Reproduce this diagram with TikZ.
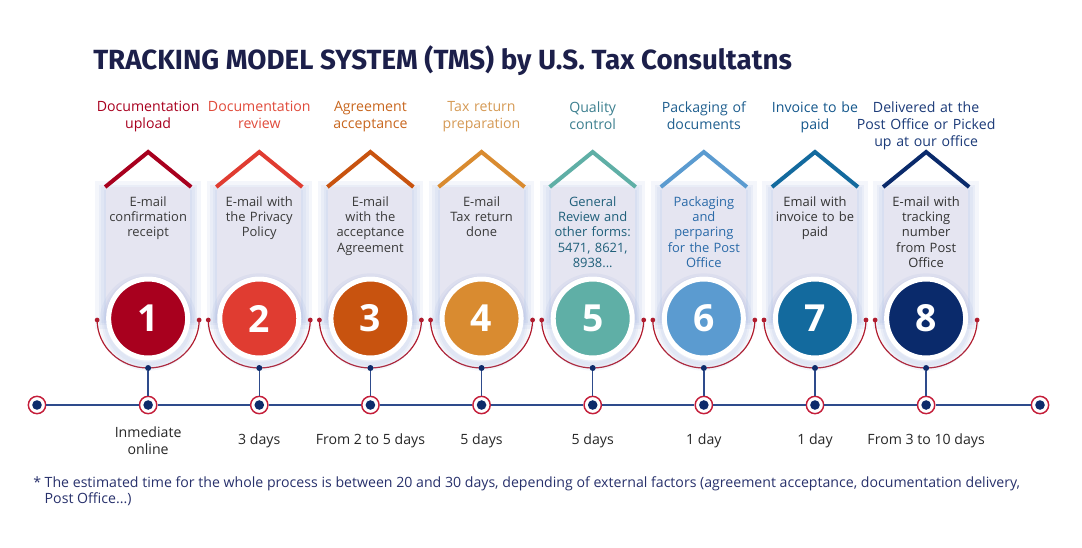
\documentclass[tikz,border=0pt]{standalone}
\usepackage{fontspec}
\setmainfont{Open Sans}
\newfontfamily\titlefont{Fira Sans}
\usetikzlibrary{positioning}
\definecolor{titlenavy}{HTML}{1C1F4A}
\definecolor{footnavy}{HTML}{27306B}
\definecolor{tabfill}{HTML}{E5E5F1}
\definecolor{glowblue}{HTML}{8FA3D6}
\definecolor{arcred}{HTML}{B01C2E}
\definecolor{ringred}{HTML}{C41E3A}
\definecolor{navydot}{HTML}{0D2B6B}
\definecolor{linenavy}{HTML}{2E4B8C}
\definecolor{col1}{HTML}{A8001E}
\definecolor{col2}{HTML}{E03C31}
\definecolor{col3}{HTML}{C8530F}
\definecolor{col4}{HTML}{D98B30}
\definecolor{col5}{HTML}{5FAFA6}
\definecolor{col6}{HTML}{5B9BD0}
\definecolor{col7}{HTML}{136A9E}
\definecolor{col8}{HTML}{0A2A6B}
\definecolor{lab1}{HTML}{A8001E}
\definecolor{lab2}{HTML}{E04A3A}
\definecolor{lab3}{HTML}{C8661E}
\definecolor{lab4}{HTML}{D59A55}
\definecolor{lab5}{HTML}{3C7F8F}
\definecolor{lab6}{HTML}{1F5F8F}
\definecolor{lab7}{HTML}{14578C}
\definecolor{lab8}{HTML}{1B3A78}
\definecolor{txt1}{HTML}{3A3A3A}
\definecolor{txt2}{HTML}{3A3A3A}
\definecolor{txt3}{HTML}{3A3A3A}
\definecolor{txt4}{HTML}{3A3A3A}
\definecolor{txt5}{HTML}{1F5F7A}
\definecolor{txt6}{HTML}{2A6AA8}
\definecolor{txt7}{HTML}{333333}
\definecolor{txt8}{HTML}{333333}

\tikzset{
  roof/.style={line width=3pt},
  glow/.style={draw=glowblue, opacity=0.1},
  stepcirc/.style={circle, draw=white, line width=3.75pt, minimum size=59.25pt, inner sep=0pt, text=white, font=\bfseries\fontsize{28}{30}\selectfont},
  bodytxt/.style={anchor=north, text width=66pt, align=center, font=\fontsize{9.7}{11.5}\selectfont},
  steplabel/.style={anchor=north, text width=120pt, align=center, font=\fontsize{10.6}{12.8}\selectfont},
  daystxt/.style={align=center, text=black!85, font=\fontsize{10.6}{12.6}\selectfont},
  tdot/.style={circle, fill=white, draw=ringred, line width=1.1pt, minimum size=13pt, inner sep=0pt,
    path picture={\fill[navydot] (path picture bounding box.center) circle (3.6pt);}},
  bdot/.style={circle, fill=navydot, minimum size=4.5pt, inner sep=0pt},
  reddot/.style={circle, fill=arcred, minimum size=3.6pt, inner sep=0pt},
  redarc/.style={draw=arcred, line width=0.9pt},
  tline/.style={draw=linenavy, line width=1.1pt}
}

\begin{document}
\begin{tikzpicture}[x=0.75pt, y=-0.75pt, every node/.style={inner sep=0pt}]
    \useasboundingbox (0,0) rectangle (1082,547);
    \node[anchor=west, text=titlenavy, font=\titlefont\bfseries\fontsize{20.8}{24}\selectfont] (title) at (93,61) {TRACKING MODEL SYSTEM (TMS) by U.S. Tax Consultatns};

    % ends of the time line
    \node[tdot] (t0) at (37,405) {};
    \node[tdot] (t9) at (1040,405) {};

    \foreach \i/\lab/\body/\days in {
        1/{Documentation\\upload}/{E-mail\\confirmation\\receipt}/{Inmediate\\online},
        2/{Documentation\\review}/{E-mail with\\the Privacy\\Policy}/{3 days},
        3/{Agreement\\acceptance}/{E-mail\\with the\\acceptance\\Agreement}/{From 2 to 5 days},
        4/{Tax return\\preparation}/{E-mail\\Tax return\\done}/{5 days},
        5/{Quality\\control}/{General\\Review and\\other forms:\\5471, 8621,\\8938...}/{5 days},
        6/{Packaging of\\documents}/{Packaging\\and\\perparing\\for the Post\\Office}/{1 day},
        7/{Invoice to be\\paid}/{Email with\\invoice to be\\paid}/{1 day},
        8/{Delivered at the\\Post Office or Picked\\up at our office}/{E-mail with\\tracking\\number\\from Post\\Office}/{From 3 to 10 days}} {
        \pgfmathsetmacro{\cx}{37+111.14*\i}
        % tab with its glow
        \foreach \w in {16,11,7,3} \draw[glow, line width=\w] (\cx-42,192) rectangle (\cx+42,318);
        \fill[tabfill] (\cx-42,187) rectangle (\cx+42,320);
        \draw[roof, draw=col\i] (\cx-43,187) -- (\cx,152) -- (\cx+43,187);
        \node[steplabel, text=lab\i] (l\i) at (\cx,101) {\lab};
        \node[bodytxt, text=txt\i] (e\i) at (\cx,196) {\body};
        % half ring under the disc
        \coordinate (al\i) at (\cx-51,320);
        \coordinate (ar\i) at (\cx+51,320);
        \draw[redarc] (al\i) arc[start angle=180, end angle=0, x radius=51, y radius=48];
        \node[reddot] at (al\i) {};
        \node[reddot] at (ar\i) {};
        \foreach \w in {10,6,3} \draw[glow, line width=\w] (\cx,322) circle (42);
        \node[stepcirc, fill=col\i] (c\i) at (\cx,318.5) {\i};
        \node[bdot] (b\i) at (\cx,368) {};
        \node[tdot] (t\i) at (\cx,405) {};
        \draw[tline] (b\i) -- (t\i);
        \node[daystxt] (d\i) at (\cx,441) {\days};
    }

    \foreach \i [count=\j] in {0,...,8}
        \draw[tline] (t\i) -- (t\j);

    \node[anchor=north west, align=left, text=footnavy, font=\fontsize{10.6}{12.2}\selectfont] (note) at (33,476)
        {* The estimated time for the whole process is between 20 and 30 days, depending of external factors (agreement acceptance, documentation delivery,\\\phantom{* }Post Office...)};
\end{tikzpicture}
\end{document}
